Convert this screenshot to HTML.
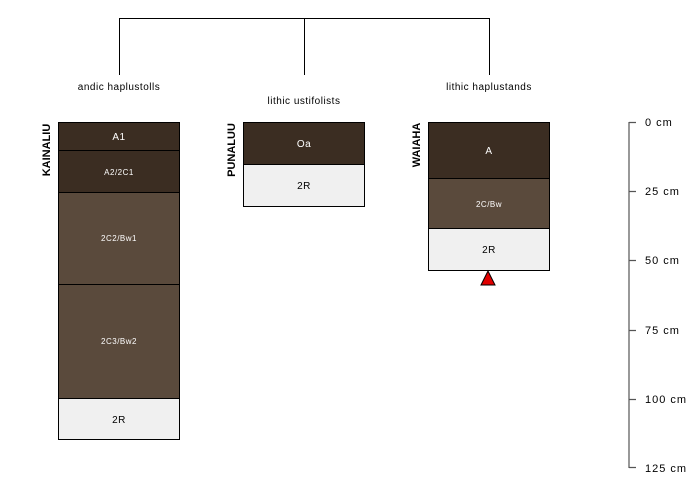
<!DOCTYPE html>
<html><head><meta charset="utf-8"><style>
html,body{margin:0;padding:0;background:#fff;}
svg{display:block;}
text{font-family:"Liberation Sans",sans-serif;}
</style></head><body>
<svg width="700" height="500" viewBox="0 0 700 500" xmlns="http://www.w3.org/2000/svg">
<rect width="700" height="500" fill="#fff"/>
<g stroke="#000" stroke-width="1" fill="none">
<path d="M119.5 75V18.5H489.5V75M304.5 18.5V75"/>
</g>
<g font-size="10" fill="#000" text-anchor="middle" letter-spacing="0.5">
<text x="119" y="90">andic haplustolls</text>
<text x="304" y="104">lithic ustifolists</text>
<text x="489" y="90">lithic haplustands</text>
</g>
<g stroke="#000" stroke-width="1">
<rect x="58.5" y="122.5" width="121" height="28" fill="#3b2d22"/>
<rect x="58.5" y="150.5" width="121" height="42" fill="#3b2d22"/>
<rect x="58.5" y="192.5" width="121" height="92" fill="#5a4a3c"/>
<rect x="58.5" y="284.5" width="121" height="114" fill="#5a4a3c"/>
<rect x="58.5" y="398.5" width="121" height="41" fill="#f0f0f0"/>
<rect x="243.5" y="122.5" width="121" height="42" fill="#3b2d22"/>
<rect x="243.5" y="164.5" width="121" height="42" fill="#f0f0f0"/>
<rect x="428.5" y="122.5" width="121" height="56" fill="#3b2d22"/>
<rect x="428.5" y="178.5" width="121" height="50" fill="#5a4a3c"/>
<rect x="428.5" y="228.5" width="121" height="42" fill="#f0f0f0"/>
</g>
<polygon points="488,271 481,285 495,285" fill="#e00000" stroke="#000" stroke-width="1"/>
<g text-anchor="middle" fill="#fff" letter-spacing="0.5">
<text x="119" y="140" font-size="10">A1</text>
<text x="119" y="175" font-size="8">A2/2C1</text>
<text x="119" y="241" font-size="8">2C2/Bw1</text>
<text x="119" y="344" font-size="8">2C3/Bw2</text>
<text x="304" y="147" font-size="10">Oa</text>
<text x="489" y="154" font-size="10">A</text>
<text x="489" y="207" font-size="8">2C/Bw</text>
</g>
<g text-anchor="middle" fill="#000" font-size="10" letter-spacing="0.5">
<text x="119" y="423">2R</text>
<text x="304" y="189">2R</text>
<text x="489" y="253">2R</text>
</g>
<g font-size="11" font-weight="bold" fill="#000" text-anchor="middle">
<text transform="translate(50,150) rotate(-90)">KAINALIU</text>
<text transform="translate(235,150) rotate(-90)">PUNALUU</text>
<text transform="translate(420,145) rotate(-90)">WAIAHA</text>
</g>
<g stroke="#555" stroke-width="1.2">
<path d="M629 122V468M629 122.5H636M629 191.5H636M629 260.5H636M629 330.5H636M629 399.5H636M629 467.5H636"/>
</g>
<g font-size="11" fill="#000" letter-spacing="1">
<text x="645" y="126">0 cm</text>
<text x="645" y="195">25 cm</text>
<text x="645" y="264">50 cm</text>
<text x="645" y="334">75 cm</text>
<text x="645" y="403">100 cm</text>
<text x="645" y="472">125 cm</text>
</g>
</svg>
</body></html>
